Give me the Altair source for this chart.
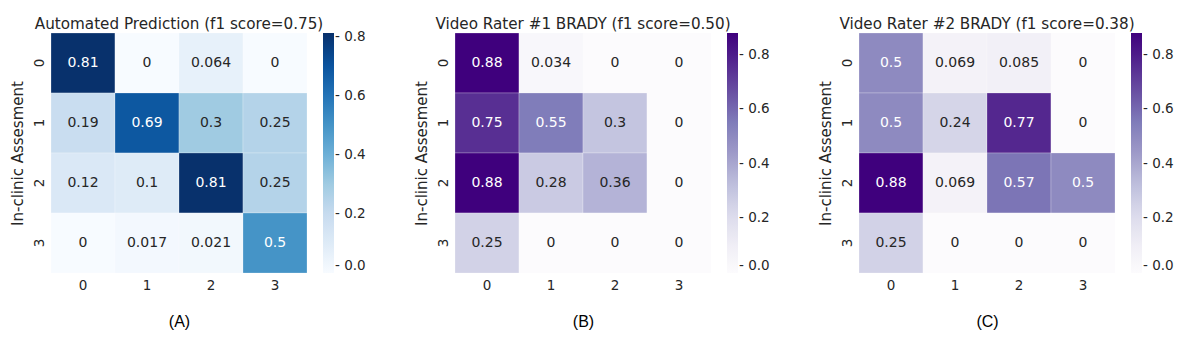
import altair as alt
import pandas as pd

rows = ["0", "1", "2", "3"]
cols = ["0", "1", "2", "3"]

vals_a = [
    [0.81, 0, 0.064, 0],
    [0.19, 0.69, 0.3, 0.25],
    [0.12, 0.1, 0.81, 0.25],
    [0, 0.017, 0.021, 0.5],
]
vals_b = [
    [0.88, 0.034, 0, 0],
    [0.75, 0.55, 0.3, 0],
    [0.88, 0.28, 0.36, 0],
    [0.25, 0, 0, 0],
]
vals_c = [
    [0.5, 0.069, 0.085, 0],
    [0.5, 0.24, 0.77, 0],
    [0.88, 0.069, 0.57, 0.5],
    [0.25, 0, 0, 0],
]
titles = [
    "Automated Prediction (f1 score=0.75)",
    "Video Rater #1 BRADY (f1 score=0.50)",
    "Video Rater #2 BRADY (f1 score=0.38)",
]
panel_labels = ["(A)", "(B)", "(C)"]
vmaxes = [0.8125, 0.88, 0.88]
cbar_ticks = [0.0, 0.2, 0.4, 0.6, 0.8]

BLUES = ["#f7fbff", "#deebf7", "#c6dbef", "#9ecae1", "#6baed6",
         "#4292c6", "#2171b5", "#08519c", "#08306b"]
PURPLES = ["#fcfbfd", "#efedf5", "#dadaeb", "#bcbddc", "#9e9ac8",
           "#807dba", "#6a51a3", "#54278f", "#3f007d"]

FONT = "DejaVu Sans"
TXT = "#262626"


def panel(vals, vmax, colors, title, label):
    df = pd.DataFrame([
        {"row": r, "col": c, "v": vals[i][j]}
        for i, r in enumerate(rows) for j, c in enumerate(cols)
    ])
    n = len(colors)
    domain = [vmax * k / (n - 1) for k in range(n)]
    base = alt.Chart(df).encode(
        x=alt.X("col:O", sort=cols, axis=alt.Axis(
            title=label, labelAngle=0, ticks=False, domain=False,
            labelPadding=5, titlePadding=22, labelFont=FONT, labelFontSize=13.5,
            labelColor=TXT, titleFont="Liberation Sans", titleFontSize=16,
            titleFontWeight="normal", titleColor="black")),
        y=alt.Y("row:O", sort=rows, axis=alt.Axis(
            title="In-clinic Assesment", labelAngle=270, ticks=False, domain=False,
            labelPadding=5, titlePadding=7, labelFont=FONT, labelFontSize=13.5,
            labelColor=TXT, titleFont=FONT, titleFontSize=15,
            titleFontWeight="normal", titleColor=TXT)),
    )
    rect = base.mark_rect(stroke="white", strokeWidth=0.4, strokeOpacity=0.6).encode(
        color=alt.Color("v:Q", scale=alt.Scale(domain=domain, range=colors, interpolate="rgb"),
                        legend=alt.Legend(title=None, gradientLength=240, gradientThickness=11,
                                          values=cbar_ticks, format=".1f", offset=16,
                                          labelExpr="'- ' + datum.label", labelOffset=1,
                                          labelFont=FONT, labelFontSize=13.5, labelColor=TXT,
                                          gradientStrokeWidth=0))
    )
    text = base.mark_text(font=FONT, fontSize=14).encode(
        text=alt.Text("v:Q", format=".2~g"),
        color=alt.condition(alt.datum.v >= 0.45, alt.value("white"), alt.value(TXT)),
    )
    return alt.layer(rect, text).properties(
        width=256, height=240,
        title=alt.TitleParams(title, font=FONT, fontSize=15.2, fontWeight="normal",
                              color=TXT, offset=1),
    )


charts = [
    panel(vals_a, vmaxes[0], BLUES, titles[0], panel_labels[0]),
    panel(vals_b, vmaxes[1], PURPLES, titles[1], panel_labels[1]),
    panel(vals_c, vmaxes[2], PURPLES, titles[2], panel_labels[2]),
]

chart = alt.hconcat(*charts, spacing=48).resolve_scale(color="independent").configure_view(
    stroke=None).properties(padding={"left": 2, "top": 8, "right": 2, "bottom": 2})

chart.save("out.html", embed_options={"renderer": "svg", "actions": False})
